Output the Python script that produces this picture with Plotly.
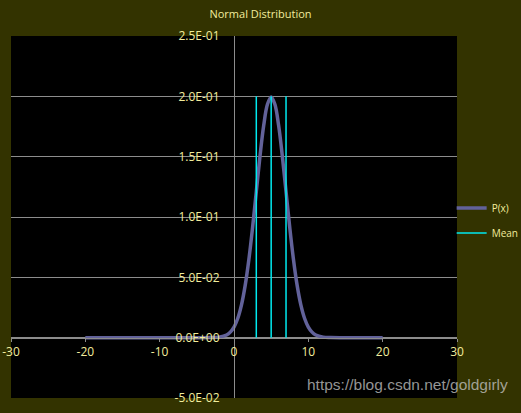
import plotly.graph_objects as go

# P(x) (mean ~5, peak ~0.2)
x_vals = [-20, -15, -10, -5, -3, -2, -1, -0.5, 0, 0.5, 1, 1.5, 2, 2.5, 3, 3.5, 4, 4.5, 5,
          5.5, 6, 6.5, 7, 7.5, 8, 8.5, 9, 9.5, 10, 10.5, 11, 12, 13, 15, 20, ]
p_vals = [0.0, 0.0, 0.0, 0.0, 0.00007, 0.00044, 0.0022, 0.0046, 0.0088, 0.0159, 0.027, 0.0431,
          0.0648, 0.0913, 0.121, 0.1506, 0.176, 0.1934, 0.1995,
          0.1934, 0.176, 0.1506, 0.121, 0.0913, 0.0648, 0.0431, 0.027, 0.0159, 0.0088, 0.0046,
          0.0022, 0.00044, 0.00007, 0.0, 0.0]

# mean and +/- 1 sd markers
mean_x = [3, 5, 7]
mean_top = 0.2

x_ticks = [-30, -20, -10, 0, 10, 20, 30]
x_labels = ["-30", "-20", "-10", "0", "10", "20", "30"]
y_ticks = [-0.05, 0.0, 0.05, 0.10, 0.15, 0.20, 0.25]
y_labels = ["-5.0E-02", "0.0E+00", "5.0E-02", "1.0E-01", "1.5E-01", "2.0E-01", "2.5E-01"]

txt = "#f2ec9c"
grid = "#8c8c8c"

mx, my = [], []
for m in mean_x:
    mx += [m, m, None]
    my += [0, mean_top, None]

fig = go.Figure()
fig.add_trace(go.Scatter(x=x_vals, y=p_vals, mode="lines", name="P(x)", legendgroup="p",
                         line=dict(color="#62629a", width=3.5, shape="spline")))
fig.add_trace(go.Scatter(x=mx, y=my, mode="lines", name="Mean", legendgroup="m",
                         line=dict(color="#00eaf0", width=1.5)))

fig.update_layout(
    width=521, height=413,
    paper_bgcolor="#333300", plot_bgcolor="#000000",
    margin=dict(l=11, r=64, t=36, b=15, autoexpand=False),
    font=dict(family="Open Sans", size=10, color=txt),
    title=dict(text="Normal Distribution", x=0.5, xanchor="center", y=0.966, yanchor="middle",
               font=dict(size=11, color=txt, family="Open Sans")),
    legend=dict(x=0.988, xanchor="left", y=0.49, yanchor="middle", bgcolor="rgba(0,0,0,0)",
                font=dict(size=10, color=txt, family="Open Sans"), itemwidth=30,
                tracegroupgap=6),
    xaxis=dict(range=[-30, 30], tickvals=x_ticks, ticktext=x_labels, anchor="free",
               position=1/6, showgrid=False, zeroline=False, showline=True, linecolor=grid,
               linewidth=1, ticks="outside", ticklen=3, tickcolor=grid, automargin=False,
               tickfont=dict(size=12, color=txt, family="Open Sans")),
    yaxis=dict(range=[-0.05, 0.25], tickvals=y_ticks, ticktext=y_labels, anchor="free",
               position=0.5, showgrid=True, gridcolor=grid, gridwidth=1, zeroline=False,
               showline=True, linecolor=grid, linewidth=1, ticks="", ticklabelstandoff=12,
               automargin=False, tickfont=dict(size=12, color=txt, family="Open Sans")),
)

fig.add_annotation(text="https://blog.csdn.net/goldgirly", xref="paper", yref="paper",
                   x=1.119, y=0.036, xanchor="right", yanchor="middle", showarrow=False,
                   font=dict(family="Liberation Sans", size=15.5, color="rgba(200,200,200,0.75)"))

# page has a default 8px body margin; drop it so the figure fills the window
fig.write_html("out.html", config={"displayModeBar": False},
               post_script="document.body.style.margin='0';")
